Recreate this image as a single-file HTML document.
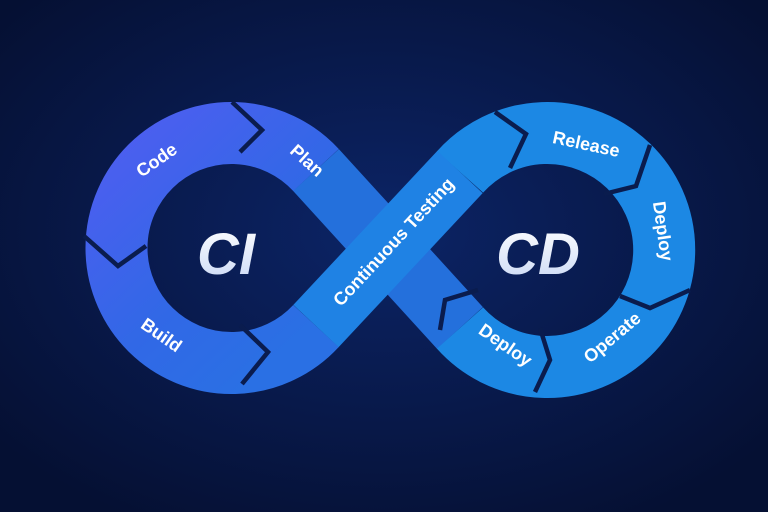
<!DOCTYPE html>
<html><head><meta charset="utf-8"><style>
html,body{margin:0;padding:0;width:768px;height:512px;overflow:hidden;background:#07163f}
</style></head><body>
<svg width="768" height="512" viewBox="0 0 768 512" xmlns="http://www.w3.org/2000/svg">
<defs>
<radialGradient id="bg" cx="50%" cy="45%" r="65%">
<stop offset="0" stop-color="#0c2466"/><stop offset="1" stop-color="#051033"/></radialGradient>
<linearGradient id="lg" x1="0" y1="0" x2="0.8" y2="1">
<stop offset="0" stop-color="#4d5ef0"/><stop offset="0.6" stop-color="#3168e6"/><stop offset="1" stop-color="#2a70e4"/></linearGradient>
<linearGradient id="tx" x1="0" y1="0" x2="0" y2="1">
<stop offset="0" stop-color="#ffffff"/><stop offset="1" stop-color="#c9d8f5"/></linearGradient>
</defs>
<rect width="768" height="512" fill="url(#bg)"/>
<g fill="none" stroke-width="62">
<path d="M316 170 L460 328" stroke="#2470dc"/>
<path d="M316 170 A115 115 0 1 0 316 326" stroke="url(#lg)"/>
<path d="M460 172 A117 117 0 1 1 460 328" stroke="#1c88e4"/>
<path d="M316 326 L460 172" stroke="#1f82e4"/>
</g>
<g fill="none" stroke="#0a1c4e" stroke-width="4.5" stroke-linejoin="miter">
<polyline points="232,102 262,130 240,152"/>
<polyline points="84,236 118,266 146,246"/>
<polyline points="240,325 268,352 242,384"/>
<polyline points="495,112 526,134 510,168"/>
<polyline points="650,145 636,186 604,194"/>
<polyline points="620,296 650,308 690,290"/>
<polyline points="540,328 550,360 535,392"/>
<polyline points="440,330 445,300 478,290"/>
</g>
<g fill="#fff" font-family="Liberation Sans, sans-serif" font-weight="bold" font-size="18">
<text transform="translate(160,165) rotate(-35)" text-anchor="middle">Code</text>
<text transform="translate(303,165) rotate(42)" text-anchor="middle">Plan</text>
<text transform="translate(158,340) rotate(35)" text-anchor="middle">Build</text>
<text transform="translate(398,246) rotate(-47)" text-anchor="middle">Continuous Testing</text>
<text transform="translate(585,150) rotate(12)" text-anchor="middle">Release</text>
<text transform="translate(657,232) rotate(82)" text-anchor="middle">Deploy</text>
<text transform="translate(616,342) rotate(-40)" text-anchor="middle">Operate</text>
<text transform="translate(502,350) rotate(35)" text-anchor="middle">Deploy</text>
</g>
<g fill="url(#tx)" font-family="Liberation Sans, sans-serif" font-weight="bold" font-style="italic" font-size="58">
<text x="226" y="274" text-anchor="middle">CI</text>
<text x="538" y="274" text-anchor="middle">CD</text>
</g>
</svg>
</body></html>
